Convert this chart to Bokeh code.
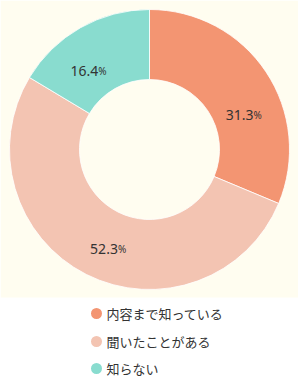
import math
from bokeh.plotting import figure
from bokeh.models import Range1d, ColumnDataSource
from bokeh.core.properties import value
from bokeh.embed import file_html
from bokeh.resources import INLINE

categories = ["内容まで知っている", "聞いたことがある", "知らない"]
shares = [31.3, 52.3, 16.4]
colors = ["#f39572", "#f3c4b2", "#89dccf"]
label_shift_deg = [-11.0, 3.6, 6.3]

W, H = 298, 382
p = figure(width=W, height=H, output_backend="svg", toolbar_location=None,
           x_range=Range1d(0, W), y_range=Range1d(0, H), min_border=0)
p.axis.visible = False
p.grid.visible = False
p.outline_line_color = None
p.background_fill_color = "white"
p.border_fill_color = "white"

def Y(py):
    return H - py

# cream chart area
p.quad(left=0, right=W, bottom=Y(297), top=Y(0), fill_color="#fffdf0", line_color=None)

cx, cy = 149, Y(149)
r_out, r_in = 140, 70
total = sum(shares)
starts, ends = [], []
acc = 0.0
for s in shares:
    a0 = math.pi / 2 - 2 * math.pi * acc / total
    acc += s
    a1 = math.pi / 2 - 2 * math.pi * acc / total
    starts.append(a0)
    ends.append(a1)

src = ColumnDataSource(dict(start=starts, end=ends, color=colors))
p.annular_wedge(x=cx, y=cy, inner_radius=r_in, outer_radius=r_out,
                start_angle="start", end_angle="end", direction="clock",
                fill_color="color", line_color="white", line_width=0.8, source=src)

# labels near mid-angle
lab_r = 103
nums, pcts, lx, ly = [], [], [], []
for s, a0, a1, sh in zip(shares, starts, ends, label_shift_deg):
    m = (a0 + a1) / 2 + math.radians(sh)
    x = cx + lab_r * math.cos(m)
    y = cy + lab_r * math.sin(m)
    nums.append(f"{s:.1f}")
    pcts.append("%")
    lx.append(x + 9)
    ly.append(y - 5)
lsrc = ColumnDataSource(dict(x=lx, y=ly, n=nums, pct=pcts))
p.text(x="x", y="y", text="n", source=lsrc, text_align="right", text_baseline="alphabetic",
       text_font=value("Noto Sans"), text_font_size="14px", text_color="#333333")
p.text(x="x", y="y", text="pct", source=lsrc, text_align="left", text_baseline="alphabetic",
       text_font=value("Noto Sans"), text_font_size="10px", text_color="#333333")

# legend
leg_y = [Y(313), Y(341), Y(368)]
p.scatter(x=[96] * 3, y=leg_y, size=11, marker="circle", fill_color=colors, line_color=None)
p.text(x=[106] * 3, y=leg_y, text=categories, text_align="left", text_baseline="middle",
       text_font=value("Noto Sans CJK JP"), text_font_size="13px", text_color="#333333")

open("out.html", "w").write(file_html(p, INLINE))
